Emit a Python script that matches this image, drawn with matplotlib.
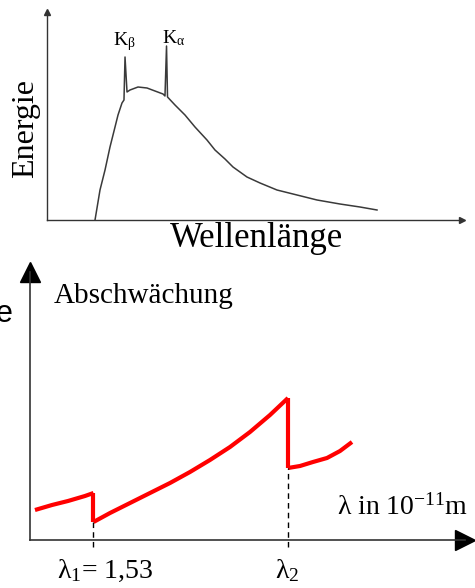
import numpy as np
import matplotlib.pyplot as plt

plt.rcParams['font.family'] = ['Liberation Serif', 'DejaVu Serif']
plt.rcParams['mathtext.default'] = 'regular'

## Data

# top: continuous X-ray spectrum with K lines (arbitrary units)
spec_wave = [1.157, 1.277, 1.398, 1.518, 1.639, 1.711, 1.807, 1.855, 1.880, 1.928,
             2.000, 2.193, 2.410, 2.602, 2.795, 2.843, 2.880, 2.904, 3.084, 3.325,
             3.566, 3.855, 4.048, 4.289, 4.482, 4.819, 5.133, 5.542, 6.024, 6.506,
             7.060, 7.542, 7.952]
spec_energy = [0.0, 1.442, 2.404, 3.510, 4.471, 5.048, 5.625, 5.769, 7.837, 6.154,
               6.250, 6.394, 6.346, 6.202, 6.058, 5.962, 8.365, 5.913, 5.529, 5.048,
               4.471, 3.846, 3.365, 2.933, 2.548, 2.067, 1.779, 1.442, 1.202, 0.962,
               0.769, 0.625, 0.481]

# bottom: absorption with two edges (lambda in 1e-11 m)
lam_1 = [0.120, 0.530, 0.916, 1.325, 1.530]
abs_1 = [1.079, 1.259, 1.403, 1.583, 1.691]
lam_2 = [1.530, 1.928, 2.410, 2.892, 3.373, 3.855, 4.337, 4.819, 5.301, 5.783, 6.217]
abs_2 = [0.647, 0.971, 1.331, 1.691, 2.050, 2.446, 2.878, 3.345, 3.885, 4.496, 5.108]
lam_3 = [6.217, 6.506, 6.819, 7.157, 7.470, 7.759]
abs_3 = [2.590, 2.662, 2.806, 2.950, 3.201, 3.525]
edges = [1.53, 6.217]

W, H = 475, 588


def fx(x):
    return x / W


def fy(y):
    return 1 - y / H


fig = plt.figure(figsize=(W / 100, H / 100), dpi=100)

## Top panel
ax1 = fig.add_axes([fx(47), fy(220), fx(462 - 47), (220 - 12) / H])
ax1.plot(spec_wave, spec_energy, color='#3a3a3a', lw=1.1)
ax1.set_xlim(0, 10)
ax1.set_ylim(0, 10)
for s in ['top', 'right']:
    ax1.spines[s].set_visible(False)
for s in ['left', 'bottom']:
    ax1.spines[s].set_color('#333333')
    ax1.spines[s].set_linewidth(1.0)
ax1.set_xticks([])
ax1.set_yticks([])
ax1.patch.set_alpha(0)
ax1.plot(0, 1, marker='^', ms=4, color='#333333', transform=ax1.transAxes, clip_on=False)
ax1.plot(1, 0, marker='>', ms=4, color='#333333', transform=ax1.transAxes, clip_on=False)

fig.text(fx(113), fy(45), 'K$_β$', fontsize=14, ha='left', va='baseline')
fig.text(fx(162), fy(43), 'K$_α$', fontsize=14, ha='left', va='baseline')
fig.text(fx(33), fy(128), 'Energie', fontsize=23, rotation=90, rotation_mode='anchor',
         ha='center', va='baseline')
fig.text(fx(256), fy(247), 'Wellenlänge', fontsize=25, ha='center', va='baseline')

## Bottom panel
ax2 = fig.add_axes([fx(30), fy(540), fx(465 - 30), (540 - 272) / H])
ax2.set_xlim(0, (465 - 30) / 41.5)
ax2.set_ylim(0, (540 - 272) / 27.8)
red = '#ff0000'
ax2.plot(lam_1, abs_1, color=red, lw=3, solid_capstyle='butt')
ax2.plot(lam_2, abs_2, color=red, lw=3, solid_capstyle='butt')
ax2.plot(lam_3, abs_3, color=red, lw=3, solid_capstyle='butt')
# vertical jumps at the edges
ax2.vlines(edges, [abs_2[0], abs_3[0]], [abs_1[-1], abs_2[-1]], color=red, lw=3)
ax2.vlines(edges, -0.25, [abs_2[0], abs_3[0]], color='black', lw=1,
           linestyles=(0, (4, 3)), clip_on=False)
for s in ['top', 'right']:
    ax2.spines[s].set_visible(False)
for s in ['left', 'bottom']:
    ax2.spines[s].set_color('#333333')
    ax2.spines[s].set_linewidth(1.2)
ax2.set_xticks([])
ax2.set_yticks([])
ax2.patch.set_alpha(0)
ax2.plot(0, 1, marker='^', ms=14, color='black', transform=ax2.transAxes, clip_on=False)
ax2.plot(1, 0, marker='>', ms=14, color='black', transform=ax2.transAxes, clip_on=False)

fig.text(fx(144), fy(303), 'Abschwächung', fontsize=21, ha='center', va='baseline')
fig.text(fx(-4), fy(322), 'e', fontsize=22, family='Liberation Sans', ha='left', va='baseline')
fig.text(fx(337), fy(515), 'λ in 10$^{-11}$m', fontsize=20, ha='left', va='baseline')
fig.text(fx(57), fy(578), 'λ$_1$= 1,53', fontsize=20, ha='left', va='baseline')
fig.text(fx(275), fy(578), 'λ$_2$', fontsize=20, ha='left', va='baseline')

fig.savefig('out.png', dpi=100)
